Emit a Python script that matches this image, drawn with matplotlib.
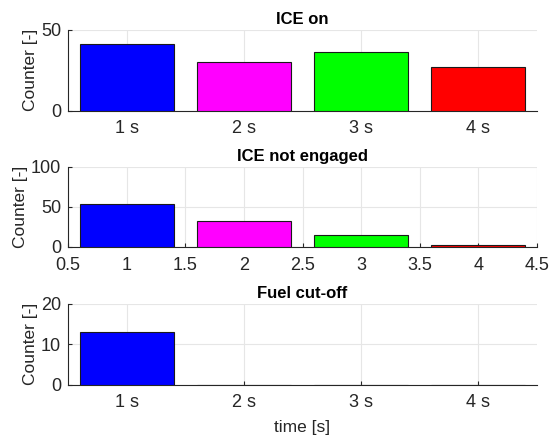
import matplotlib
matplotlib.use("Agg")
import matplotlib.pyplot as plt

# Counter values per time window
positions = [1, 2, 3, 4]
time_labels = ["1 s", "2 s", "3 s", "4 s"]
bar_colors = ["#0000ff", "#ff00ff", "#00ff00", "#ff0000"]

ice_on = [41, 30, 36, 27]
ice_not_engaged = [54, 32, 15, 3]
fuel_cut_off = [13, 0, 0, 0]

plt.rcParams["font.family"] = ["Liberation Sans", "DejaVu Sans"]

fig = plt.figure(figsize=(5.49, 4.37), dpi=100)
W, H = 549, 437
left, right = 68, 537


def make_axes(top, bottom):
    return fig.add_axes([left / W, 1 - bottom / H, (right - left) / W, (bottom - top) / H])


ax1 = make_axes(29.5, 110.5)
ax2 = make_axes(166.5, 247.0)
ax3 = make_axes(304.0, 384.5)

axis_color = "#262626"
grid_color = "#e6e6e6"


def style(ax, data, title, ymax, yticks, xticks, xticklabels):
    ax.bar(positions, data, width=0.8, color=bar_colors, edgecolor="#1a1a1a",
           linewidth=0.8, zorder=3)
    ax.set_xlim(0.5, 4.5)
    ax.set_ylim(0, ymax)
    ax.set_yticks(yticks)
    ax.set_xticks(xticks)
    ax.set_xticklabels(xticklabels)
    ax.grid(True, color=grid_color, linewidth=0.8, zorder=0)
    ax.set_axisbelow(True)
    for side in ("top", "right"):
        ax.spines[side].set_visible(False)
    for side in ("left", "bottom"):
        ax.spines[side].set_color(axis_color)
        ax.spines[side].set_linewidth(0.8)
    ax.tick_params(direction="in", length=3, width=0.8, color=axis_color,
                   labelsize=13, labelcolor=axis_color)
    ax.tick_params(axis="x", pad=7)
    ax.tick_params(axis="y", pad=5)
    ax.set_ylabel("Counter [-]", fontsize=12.5, color=axis_color, labelpad=2)
    ax.set_title(title, fontsize=12, fontweight="bold", color="black", pad=4)


style(ax1, ice_on, "ICE on", 50, [0, 50], positions, time_labels)
style(ax2, ice_not_engaged, "ICE not engaged", 100, [0, 50, 100],
      [0.5, 1, 1.5, 2, 2.5, 3, 3.5, 4, 4.5],
      ["0.5", "1", "1.5", "2", "2.5", "3", "3.5", "4", "4.5"])
style(ax3, fuel_cut_off, "Fuel cut-off", 20, [0, 10, 20], positions, time_labels)
ax3.set_xlabel("time [s]", fontsize=12.5, color=axis_color, labelpad=6)

fig.savefig("out.png", dpi=100)
